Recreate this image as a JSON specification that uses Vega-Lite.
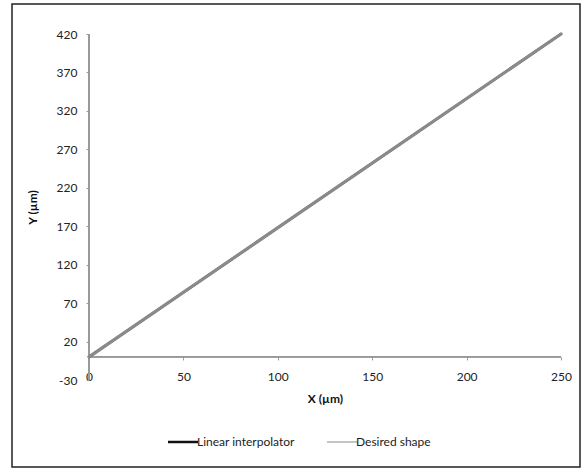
{
  "$schema": "https://vega.github.io/schema/vega-lite/v6.json",
  "width": 568,
  "height": 463,
  "autosize": "none",
  "padding": {"left": 12, "top": 4, "right": 7, "bottom": 2},
  "background": "#ffffff",
  "config": {
    "view": {"stroke": "#222222", "strokeWidth": 1.5},
    "font": "Lato",
    "axis": {"grid": false, "labelFont": "Lato", "titleFont": "Lato", "labelFontSize": 12, "labelColor": "#222222", "titleFontSize": 12, "titleColor": "#111111", "titleFontWeight": "bold", "tickColor": "#999999", "tickSize": 3}
  },
  "data": {
    "values": [
      {"x": 0, "y": 0, "series": "Linear interpolator"},
      {"x": 250, "y": 420, "series": "Linear interpolator"},
      {"x": 0, "y": 0, "series": "Desired shape"},
      {"x": 250, "y": 420, "series": "Desired shape"}
    ]
  },
  "encoding": {
    "x": {
      "field": "x", "type": "quantitative",
      "scale": {"domain": [-40.78, 260.06], "nice": false, "zero": false},
      "axis": {"values": [0, 50, 100, 150, 200, 250], "domain": false, "offset": -110.07, "labelPadding": 12, "title": "X (µm)", "titleX": 313, "titleY": 37}
    },
    "y": {
      "field": "y", "type": "quantitative",
      "scale": {"domain": [-143.15, 459.02], "nice": false, "zero": false},
      "axis": {"values": [-30, 20, 70, 120, 170, 220, 270, 320, 370, 420], "domain": false, "offset": -77, "labelPadding": 9, "labelExpr": "'' + datum.value", "title": "Y (µm)", "titleX": -50, "titleY": 203}
    },
    "color": {
      "field": "series", "type": "nominal",
      "scale": {"domain": ["Linear interpolator", "Desired shape"], "range": ["#111111", "#8a8a8a"]},
      "legend": {
        "title": null, "orient": "none", "legendX": 165, "legendY": 432, "direction": "horizontal",
        "symbolType": "stroke", "symbolSize": 900, "labelOffset": 8, "columnPadding": 30,
        "labelFontSize": 12, "labelColor": "#222222", "labelFont": "Lato",
        "encode": {"symbols": {"update": {"strokeWidth": {"signal": "datum.value === 'Linear interpolator' ? 2.5 : 1"}}}}
      }
    }
  },
  "layer": [
    {
      "mark": {"type": "rule", "color": "#999999", "strokeWidth": 1.3},
      "encoding": {"x": {"datum": 0}, "y": {"datum": -30}, "y2": {"datum": 420}, "color": {"value": "#999999"}}
    },
    {
      "mark": {"type": "rule", "color": "#999999", "strokeWidth": 1.3},
      "encoding": {"y": {"datum": 0}, "x": {"datum": 0}, "x2": {"datum": 250}, "color": {"value": "#999999"}}
    },
    {
      "transform": [{"filter": "datum.series === 'Linear interpolator'"}],
      "mark": {"type": "line", "strokeCap": "round", "strokeWidth": 2.4}
    },
    {
      "transform": [{"filter": "datum.series === 'Desired shape'"}],
      "mark": {"type": "line", "strokeCap": "round", "strokeWidth": 3.2}
    }
  ]
}
